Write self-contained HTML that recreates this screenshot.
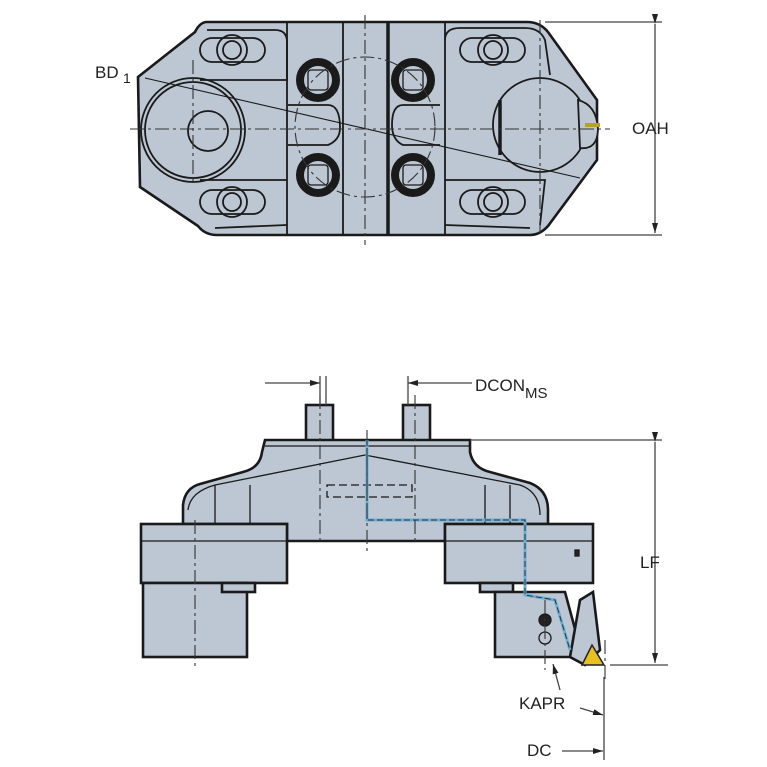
<!DOCTYPE html>
<html><head><meta charset="utf-8"><style>
html,body{margin:0;padding:0;background:#fff;}
svg{display:block;}
text{font-family:"Liberation Sans",sans-serif;fill:#222;}
</style></head><body>
<svg width="767" height="767" viewBox="0 0 767 767" xmlns="http://www.w3.org/2000/svg">
<defs>
<marker id="ar" markerWidth="10" markerHeight="6" refX="10" refY="3" orient="auto" markerUnits="userSpaceOnUse"><path d="M0,0 L10,3 L0,6 z" fill="#222"/></marker>
</defs>
<!-- ============ TOP VIEW ============ -->
<g stroke="#1a1a1a" stroke-width="2.6" fill="#bdc7d3">
<path d="M207,22 L527,22 Q540,22 548,32 L597,100 L597,160 L548,226 Q540,235 530,235 L217,235 Q205,235 198,226 L140,187 L138,77 L195,32 Q200,22 207,22 Z"/>
</g>
<g stroke="#1a1a1a" stroke-width="1.8" fill="none">
<line x1="343" y1="22" x2="343" y2="235"/>
<line x1="388" y1="22" x2="388" y2="235" stroke-width="3.5"/>
<path d="M287,22 L287,235"/>
<path d="M445,22 L445,235"/>
<path d="M207,30 L275,30 Q287,30 287,42 L287,80 L200,80"/>
<path d="M445,40 Q445,28 460,28 L525,28 Q540,28 545,40 L550,75"/>
<path d="M200,180 L287,180 M287,225 L215,228"/>
<path d="M445,180 L545,180 L540,225 M445,225 L530,228"/>
<path d="M288,105 L328,105 Q340,105 340,128 Q340,140 328,145 L288,145"/>
<path d="M440,105 L403,105 Q392,105 392,125 Q392,140 403,145 L440,145"/>
<circle cx="193" cy="130" r="52"/>
<circle cx="193" cy="130" r="48"/>
<circle cx="208" cy="131" r="20"/>
<circle cx="540" cy="125" r="47"/>
<line x1="500" y1="100" x2="500" y2="155" stroke-width="3.5"/>
<rect x="200" y="38" width="65" height="24" rx="12"/>
<rect x="460" y="38" width="65" height="24" rx="12"/>
<rect x="200" y="190" width="65" height="24" rx="12"/>
<rect x="460" y="190" width="65" height="24" rx="12"/>
<circle cx="232" cy="50" r="15"/><circle cx="232" cy="50" r="9"/>
<circle cx="493" cy="50" r="15"/><circle cx="493" cy="50" r="9"/>
<circle cx="232" cy="202" r="15"/><circle cx="232" cy="202" r="9"/>
<circle cx="493" cy="202" r="15"/><circle cx="493" cy="202" r="9"/>
<path d="M578,100 Q597,105 598,130 Q597,150 580,148 Z" fill="#bdc7d3"/>
<line x1="585" y1="125" x2="600" y2="125" stroke="#b8a030" stroke-width="4"/>
<line x1="145" y1="78" x2="580" y2="178" stroke-width="1.1"/>
</g>
<g stroke="#1a1a1a" fill="none">
<circle cx="318" cy="80" r="18" stroke-width="8"/>
<circle cx="413" cy="80" r="18" stroke-width="8"/>
<circle cx="318" cy="175" r="18" stroke-width="8"/>
<circle cx="413" cy="175" r="18" stroke-width="8"/>
<g stroke-width="1.3">
<rect x="308" y="70" width="20" height="20" rx="3"/><rect x="403" y="70" width="20" height="20" rx="3"/>
<rect x="308" y="165" width="20" height="20" rx="3"/><rect x="403" y="165" width="20" height="20" rx="3"/>
</g>
</g>
<g stroke="#333" stroke-width="1.1" stroke-dasharray="14,4,3,4" fill="none">
<line x1="130" y1="129" x2="610" y2="129"/>
<line x1="365" y1="15" x2="365" y2="245"/>
<line x1="193" y1="60" x2="193" y2="185"/>
<line x1="540" y1="20" x2="540" y2="235"/>
<circle cx="365" cy="127" r="70"/>
</g>
<g stroke="#444" stroke-width="1.3" fill="none">
<line x1="545" y1="22" x2="662" y2="22"/>
<line x1="545" y1="235" x2="662" y2="235"/>
<line x1="655" y1="24" x2="655" y2="233" marker-start="url(#ar)" marker-end="url(#ar)"/>
</g>
<text x="632" y="134" font-size="17">OAH</text>
<text x="95" y="78" font-size="17">BD</text><text x="123" y="83" font-size="14">1</text>

<!-- ============ SIDE VIEW ============ -->
<g stroke="#1a1a1a" stroke-width="2.6" fill="#bdc7d3">
<rect x="306" y="405" width="27" height="37"/>
<rect x="403" y="405" width="27" height="37"/>
<path d="M265,440 L470,440 L470,452 Q473,468 490,472 L530,483 Q548,490 548,510 L548,524 L445,524 L445,541 L287,541 L287,524 L183,524 L183,505 Q185,488 200,484 L243,472 Q260,468 262,452 Z"/>
<rect x="141" y="524" width="146" height="59"/>
<rect x="143" y="583" width="104" height="74"/>
<rect x="222" y="583" width="33" height="9"/>
<rect x="445" y="524" width="148" height="59"/>
<rect x="480" y="583" width="33" height="9"/>
<path d="M495,592 L565,592 L578,640 L570,657 L495,657 Z"/>
<path d="M580,600 L593,592 L600,650 L585,665 L570,657 Z"/>
</g>
<polygon points="582,665 592,645 604,665" fill="#e8c020" stroke="#222" stroke-width="1.5"/>
<g stroke="#1a1a1a" stroke-width="1.3" fill="none">
<line x1="141" y1="541" x2="287" y2="541"/>
<line x1="445" y1="541" x2="593" y2="541"/>
<line x1="265" y1="446" x2="470" y2="446"/>
<path d="M188,510 Q190,492 215,485 L365,455 L520,485 Q540,492 540,515"/>
<line x1="215" y1="485" x2="215" y2="524"/><line x1="250" y1="485" x2="250" y2="524"/>
<line x1="485" y1="485" x2="485" y2="524"/><line x1="510" y1="485" x2="510" y2="524"/>
<rect x="327" y="485" width="85" height="12" stroke-dasharray="8,4"/>
<circle cx="545" cy="620" r="6" fill="#222"/>
<circle cx="545" cy="638" r="6"/>
<rect x="575" y="550" width="4" height="6" fill="#222"/>
</g>
<path d="M367,440 L367,520 L525,520 L525,595 L555,600 L570,650" stroke="#6aaed8" stroke-width="3" fill="none"/>
<path d="M367,440 L367,520 L525,520 L525,595 L555,600 L570,650" stroke="#333" stroke-width="1" stroke-dasharray="6,3" fill="none"/>
<g stroke="#333" stroke-width="1.1" stroke-dasharray="14,4,3,4" fill="none">
<line x1="320" y1="395" x2="320" y2="545"/>
<line x1="415" y1="395" x2="415" y2="545"/>
<line x1="367" y1="430" x2="367" y2="555"/>
<line x1="195" y1="520" x2="195" y2="668"/>
<line x1="545" y1="600" x2="545" y2="670"/>
<line x1="605" y1="640" x2="605" y2="680"/>
<line x1="615" y1="665" x2="640" y2="665"/>
</g>
<g stroke="#444" stroke-width="1.3" fill="none">
<line x1="320" y1="376" x2="320" y2="405"/>
<line x1="326" y1="376" x2="326" y2="405"/>
<line x1="408" y1="376" x2="408" y2="405"/>
<line x1="265" y1="383" x2="320" y2="383" marker-end="url(#ar)"/>
<line x1="472" y1="383" x2="408" y2="383" marker-end="url(#ar)"/>
<line x1="470" y1="440" x2="662" y2="440"/>
<line x1="610" y1="665" x2="668" y2="665"/>
<line x1="655" y1="442" x2="655" y2="663" marker-start="url(#ar)" marker-end="url(#ar)"/>
<line x1="604" y1="677" x2="604" y2="760"/>
<line x1="562" y1="751" x2="603" y2="751" marker-end="url(#ar)"/>
<line x1="580" y1="708" x2="603" y2="715" marker-end="url(#ar)"/>
<line x1="560" y1="690" x2="553" y2="664" marker-end="url(#ar)"/>
</g>
<text x="475" y="391" font-size="17">DCON</text><text x="525" y="398" font-size="15">MS</text>
<text x="640" y="568" font-size="17">LF</text>
<text x="519" y="709" font-size="17">KAPR</text>
<text x="527" y="756" font-size="17">DC</text>
</svg>
</body></html>
